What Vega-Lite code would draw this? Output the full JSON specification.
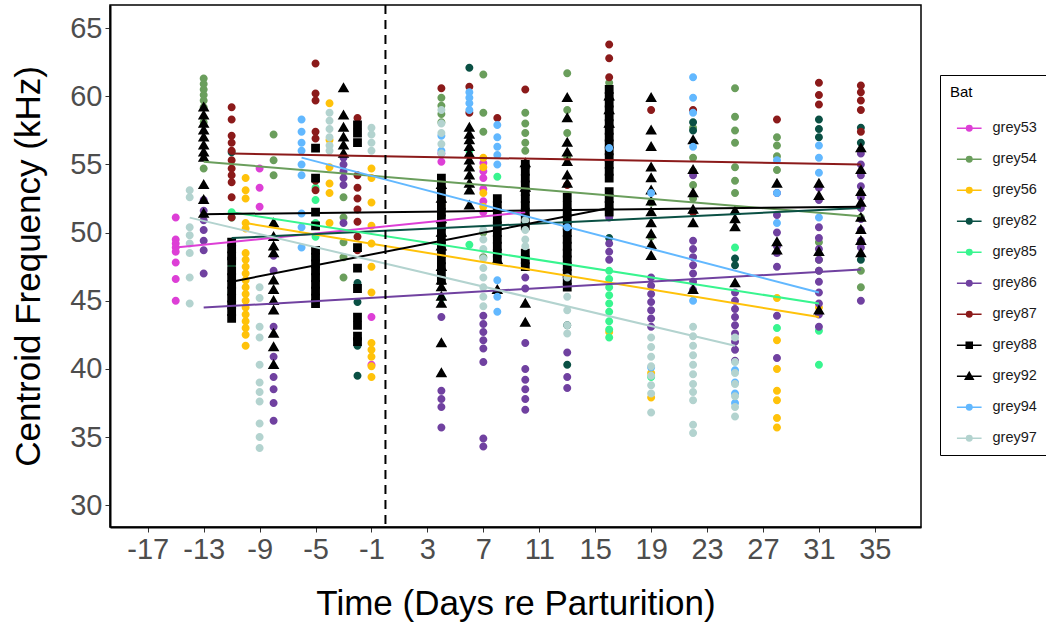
{
  "$schema": "https://vega.github.io/schema/vega-lite/v6.json",
  "width": 811,
  "height": 522,
  "autosize": {"type": "none"},
  "padding": {"left": 110, "top": 5, "right": 125, "bottom": 103},
  "background": "white",
  "datasets": {
    "points": [
      {"Bat":"grey53","Day":-15,"Freq":51.1},{"Bat":"grey53","Day":-15,"Freq":49.5},{"Bat":"grey53","Day":-15,"Freq":49.2},{"Bat":"grey53","Day":-15,"Freq":48.9},{"Bat":"grey53","Day":-15,"Freq":48.6},{"Bat":"grey53","Day":-15,"Freq":47.8},{"Bat":"grey53","Day":-15,"Freq":46.6},{"Bat":"grey53","Day":-15,"Freq":45.0},
      {"Bat":"grey53","Day":-9,"Freq":54.7},{"Bat":"grey53","Day":-9,"Freq":53.3},{"Bat":"grey53","Day":-9,"Freq":51.9},
      {"Bat":"grey53","Day":-1,"Freq":43.8},{"Bat":"grey53","Day":-1,"Freq":40.3},
      {"Bat":"grey53","Day":4,"Freq":55.8},{"Bat":"grey53","Day":4,"Freq":55.2},
      {"Bat":"grey53","Day":7,"Freq":55.1},{"Bat":"grey53","Day":7,"Freq":54.5},{"Bat":"grey53","Day":7,"Freq":54.0},{"Bat":"grey53","Day":7,"Freq":53.2},{"Bat":"grey53","Day":7,"Freq":52.3},{"Bat":"grey53","Day":7,"Freq":51.5},

      {"Bat":"grey54","Day":-13,"Freq":61.3},{"Bat":"grey54","Day":-13,"Freq":60.9},{"Bat":"grey54","Day":-13,"Freq":60.5},{"Bat":"grey54","Day":-13,"Freq":60.1},{"Bat":"grey54","Day":-13,"Freq":59.7},{"Bat":"grey54","Day":-13,"Freq":59.2},{"Bat":"grey54","Day":-13,"Freq":58.1},{"Bat":"grey54","Day":-13,"Freq":54.7},
      {"Bat":"grey54","Day":-8,"Freq":57.2},{"Bat":"grey54","Day":-8,"Freq":55.3},{"Bat":"grey54","Day":-8,"Freq":54.2},
      {"Bat":"grey54","Day":-3,"Freq":52.6},{"Bat":"grey54","Day":-3,"Freq":51.1},{"Bat":"grey54","Day":-3,"Freq":49.3},{"Bat":"grey54","Day":-3,"Freq":48.2},{"Bat":"grey54","Day":-3,"Freq":46.7},
      {"Bat":"grey54","Day":4,"Freq":59.9},{"Bat":"grey54","Day":4,"Freq":59.3},{"Bat":"grey54","Day":4,"Freq":58.7},{"Bat":"grey54","Day":4,"Freq":58.1},{"Bat":"grey54","Day":4,"Freq":50.7},
      {"Bat":"grey54","Day":7,"Freq":61.6},{"Bat":"grey54","Day":7,"Freq":58.8},{"Bat":"grey54","Day":7,"Freq":57.4},{"Bat":"grey54","Day":7,"Freq":50.0},{"Bat":"grey54","Day":7,"Freq":48.2},
      {"Bat":"grey54","Day":10,"Freq":58.8},{"Bat":"grey54","Day":10,"Freq":58.0},{"Bat":"grey54","Day":10,"Freq":57.3},{"Bat":"grey54","Day":10,"Freq":56.6},{"Bat":"grey54","Day":10,"Freq":56.0},
      {"Bat":"grey54","Day":13,"Freq":61.7},{"Bat":"grey54","Day":13,"Freq":59.0},{"Bat":"grey54","Day":13,"Freq":57.3},{"Bat":"grey54","Day":13,"Freq":55.5},
      {"Bat":"grey54","Day":16,"Freq":61.0},
      {"Bat":"grey54","Day":19,"Freq":52.2},{"Bat":"grey54","Day":19,"Freq":49.7},
      {"Bat":"grey54","Day":22,"Freq":57.7},{"Bat":"grey54","Day":22,"Freq":55.5},{"Bat":"grey54","Day":22,"Freq":54.5},{"Bat":"grey54","Day":22,"Freq":53.5},{"Bat":"grey54","Day":22,"Freq":52.5},{"Bat":"grey54","Day":22,"Freq":51.5},
      {"Bat":"grey54","Day":25,"Freq":60.6},{"Bat":"grey54","Day":25,"Freq":58.5},{"Bat":"grey54","Day":25,"Freq":57.5},{"Bat":"grey54","Day":25,"Freq":56.6},{"Bat":"grey54","Day":25,"Freq":54.8},{"Bat":"grey54","Day":25,"Freq":53.8},{"Bat":"grey54","Day":25,"Freq":52.9},
      {"Bat":"grey54","Day":28,"Freq":57.0},{"Bat":"grey54","Day":28,"Freq":56.4},{"Bat":"grey54","Day":28,"Freq":55.6},{"Bat":"grey54","Day":28,"Freq":54.6},
      {"Bat":"grey54","Day":31,"Freq":49.3},{"Bat":"grey54","Day":31,"Freq":48.0},{"Bat":"grey54","Day":31,"Freq":47.2},
      {"Bat":"grey54","Day":34,"Freq":51.1},{"Bat":"grey54","Day":34,"Freq":47.2},{"Bat":"grey54","Day":34,"Freq":46.0},

      {"Bat":"grey56","Day":-10,"Freq":54.0},{"Bat":"grey56","Day":-10,"Freq":53.1},{"Bat":"grey56","Day":-10,"Freq":52.5},{"Bat":"grey56","Day":-10,"Freq":50.7},{"Bat":"grey56","Day":-10,"Freq":50.3},{"Bat":"grey56","Day":-10,"Freq":48.5},{"Bat":"grey56","Day":-10,"Freq":48.0},{"Bat":"grey56","Day":-10,"Freq":47.5},{"Bat":"grey56","Day":-10,"Freq":47.0},{"Bat":"grey56","Day":-10,"Freq":46.5},{"Bat":"grey56","Day":-10,"Freq":46.0},{"Bat":"grey56","Day":-10,"Freq":45.5},{"Bat":"grey56","Day":-10,"Freq":45.0},{"Bat":"grey56","Day":-10,"Freq":44.5},{"Bat":"grey56","Day":-10,"Freq":44.0},{"Bat":"grey56","Day":-10,"Freq":43.5},{"Bat":"grey56","Day":-10,"Freq":43.0},{"Bat":"grey56","Day":-10,"Freq":42.5},{"Bat":"grey56","Day":-10,"Freq":41.7},
      {"Bat":"grey56","Day":-4,"Freq":59.5},{"Bat":"grey56","Day":-4,"Freq":56.8},{"Bat":"grey56","Day":-4,"Freq":54.8},{"Bat":"grey56","Day":-4,"Freq":53.6},{"Bat":"grey56","Day":-4,"Freq":52.9},{"Bat":"grey56","Day":-4,"Freq":50.7},
      {"Bat":"grey56","Day":-1,"Freq":54.7},{"Bat":"grey56","Day":-1,"Freq":54.0},{"Bat":"grey56","Day":-1,"Freq":52.2},{"Bat":"grey56","Day":-1,"Freq":50.5},{"Bat":"grey56","Day":-1,"Freq":49.2},{"Bat":"grey56","Day":-1,"Freq":47.5},{"Bat":"grey56","Day":-1,"Freq":45.6},{"Bat":"grey56","Day":-1,"Freq":41.9},{"Bat":"grey56","Day":-1,"Freq":41.4},{"Bat":"grey56","Day":-1,"Freq":40.9},{"Bat":"grey56","Day":-1,"Freq":40.2},{"Bat":"grey56","Day":-1,"Freq":39.4},
      {"Bat":"grey56","Day":4,"Freq":52.0},{"Bat":"grey56","Day":4,"Freq":51.5},
      {"Bat":"grey56","Day":7,"Freq":55.5},{"Bat":"grey56","Day":7,"Freq":54.8},{"Bat":"grey56","Day":7,"Freq":52.9},{"Bat":"grey56","Day":7,"Freq":51.9},
      {"Bat":"grey56","Day":16,"Freq":42.7},
      {"Bat":"grey56","Day":19,"Freq":39.7},{"Bat":"grey56","Day":19,"Freq":37.9},
      {"Bat":"grey56","Day":28,"Freq":45.2},{"Bat":"grey56","Day":28,"Freq":42.1},{"Bat":"grey56","Day":28,"Freq":40.0},{"Bat":"grey56","Day":28,"Freq":38.4},{"Bat":"grey56","Day":28,"Freq":37.7},{"Bat":"grey56","Day":28,"Freq":36.4},{"Bat":"grey56","Day":28,"Freq":35.7},
      {"Bat":"grey56","Day":31,"Freq":44.5},

      {"Bat":"grey82","Day":-11,"Freq":55.9},
      {"Bat":"grey82","Day":-5,"Freq":48.7},
      {"Bat":"grey82","Day":-2,"Freq":46.3},{"Bat":"grey82","Day":-2,"Freq":44.9},{"Bat":"grey82","Day":-2,"Freq":41.7},{"Bat":"grey82","Day":-2,"Freq":39.5},
      {"Bat":"grey82","Day":6,"Freq":62.1},
      {"Bat":"grey82","Day":13,"Freq":43.2},{"Bat":"grey82","Day":13,"Freq":40.3},
      {"Bat":"grey82","Day":16,"Freq":49.6},
      {"Bat":"grey82","Day":22,"Freq":58.1},{"Bat":"grey82","Day":22,"Freq":57.5},
      {"Bat":"grey82","Day":25,"Freq":48.1},{"Bat":"grey82","Day":25,"Freq":47.6},
      {"Bat":"grey82","Day":31,"Freq":58.3},{"Bat":"grey82","Day":31,"Freq":57.6},{"Bat":"grey82","Day":31,"Freq":57.0},
      {"Bat":"grey82","Day":34,"Freq":57.7},{"Bat":"grey82","Day":34,"Freq":56.6},{"Bat":"grey82","Day":34,"Freq":48.0},

      {"Bat":"grey85","Day":-11,"Freq":51.5},{"Bat":"grey85","Day":-11,"Freq":51.1},{"Bat":"grey85","Day":-11,"Freq":47.6},{"Bat":"grey85","Day":-11,"Freq":45.6},
      {"Bat":"grey85","Day":-5,"Freq":53.3},{"Bat":"grey85","Day":-5,"Freq":52.4},{"Bat":"grey85","Day":-5,"Freq":50.7},{"Bat":"grey85","Day":-5,"Freq":49.7},{"Bat":"grey85","Day":-5,"Freq":48.2},
      {"Bat":"grey85","Day":4,"Freq":45.2},
      {"Bat":"grey85","Day":6,"Freq":56.0},{"Bat":"grey85","Day":6,"Freq":49.1},
      {"Bat":"grey85","Day":8,"Freq":54.1},
      {"Bat":"grey85","Day":16,"Freq":47.2},{"Bat":"grey85","Day":16,"Freq":46.6},{"Bat":"grey85","Day":16,"Freq":46.0},{"Bat":"grey85","Day":16,"Freq":45.4},{"Bat":"grey85","Day":16,"Freq":44.8},{"Bat":"grey85","Day":16,"Freq":44.2},{"Bat":"grey85","Day":16,"Freq":43.5},{"Bat":"grey85","Day":16,"Freq":42.9},{"Bat":"grey85","Day":16,"Freq":42.3},
      {"Bat":"grey85","Day":19,"Freq":39.4},
      {"Bat":"grey85","Day":25,"Freq":48.9},
      {"Bat":"grey85","Day":28,"Freq":43.0},
      {"Bat":"grey85","Day":31,"Freq":42.8},{"Bat":"grey85","Day":31,"Freq":40.3},

      {"Bat":"grey86","Day":-13,"Freq":52.4},{"Bat":"grey86","Day":-13,"Freq":51.6},{"Bat":"grey86","Day":-13,"Freq":50.9},{"Bat":"grey86","Day":-13,"Freq":50.2},{"Bat":"grey86","Day":-13,"Freq":49.4},{"Bat":"grey86","Day":-13,"Freq":48.7},{"Bat":"grey86","Day":-13,"Freq":47.0},
      {"Bat":"grey86","Day":-8,"Freq":48.3},{"Bat":"grey86","Day":-8,"Freq":47.2},{"Bat":"grey86","Day":-8,"Freq":43.1},{"Bat":"grey86","Day":-8,"Freq":40.9},{"Bat":"grey86","Day":-8,"Freq":39.4},{"Bat":"grey86","Day":-8,"Freq":38.5},{"Bat":"grey86","Day":-8,"Freq":37.5},{"Bat":"grey86","Day":-8,"Freq":36.2},
      {"Bat":"grey86","Day":-3,"Freq":55.5},{"Bat":"grey86","Day":-3,"Freq":55.0},{"Bat":"grey86","Day":-3,"Freq":54.5},{"Bat":"grey86","Day":-3,"Freq":54.0},{"Bat":"grey86","Day":-3,"Freq":53.5},{"Bat":"grey86","Day":-3,"Freq":50.7},
      {"Bat":"grey86","Day":4,"Freq":43.8},{"Bat":"grey86","Day":4,"Freq":38.4},{"Bat":"grey86","Day":4,"Freq":37.8},{"Bat":"grey86","Day":4,"Freq":37.2},{"Bat":"grey86","Day":4,"Freq":35.7},
      {"Bat":"grey86","Day":7,"Freq":43.9},{"Bat":"grey86","Day":7,"Freq":43.3},{"Bat":"grey86","Day":7,"Freq":42.7},{"Bat":"grey86","Day":7,"Freq":42.1},{"Bat":"grey86","Day":7,"Freq":41.5},{"Bat":"grey86","Day":7,"Freq":40.5},{"Bat":"grey86","Day":7,"Freq":34.9},{"Bat":"grey86","Day":7,"Freq":34.3},
      {"Bat":"grey86","Day":10,"Freq":46.7},{"Bat":"grey86","Day":10,"Freq":45.9},{"Bat":"grey86","Day":10,"Freq":41.9},{"Bat":"grey86","Day":10,"Freq":40.0},{"Bat":"grey86","Day":10,"Freq":39.2},{"Bat":"grey86","Day":10,"Freq":38.5},{"Bat":"grey86","Day":10,"Freq":37.8},{"Bat":"grey86","Day":10,"Freq":37.0},
      {"Bat":"grey86","Day":13,"Freq":41.2},{"Bat":"grey86","Day":13,"Freq":39.4},{"Bat":"grey86","Day":13,"Freq":38.6},
      {"Bat":"grey86","Day":16,"Freq":55.1},{"Bat":"grey86","Day":16,"Freq":51.1},{"Bat":"grey86","Day":16,"Freq":49.2},{"Bat":"grey86","Day":16,"Freq":48.6},{"Bat":"grey86","Day":16,"Freq":48.0},
      {"Bat":"grey86","Day":19,"Freq":46.7},{"Bat":"grey86","Day":19,"Freq":46.1},{"Bat":"grey86","Day":19,"Freq":45.5},{"Bat":"grey86","Day":19,"Freq":44.9},{"Bat":"grey86","Day":19,"Freq":44.3},{"Bat":"grey86","Day":19,"Freq":43.7},{"Bat":"grey86","Day":19,"Freq":43.1},
      {"Bat":"grey86","Day":22,"Freq":54.2},{"Bat":"grey86","Day":22,"Freq":49.4},{"Bat":"grey86","Day":22,"Freq":48.8},{"Bat":"grey86","Day":22,"Freq":48.2},{"Bat":"grey86","Day":22,"Freq":47.6},{"Bat":"grey86","Day":22,"Freq":47.0},{"Bat":"grey86","Day":22,"Freq":46.4},{"Bat":"grey86","Day":22,"Freq":45.8},
      {"Bat":"grey86","Day":25,"Freq":45.6},{"Bat":"grey86","Day":25,"Freq":45.0},{"Bat":"grey86","Day":25,"Freq":44.4},{"Bat":"grey86","Day":25,"Freq":43.8},{"Bat":"grey86","Day":25,"Freq":43.2},{"Bat":"grey86","Day":25,"Freq":42.6},{"Bat":"grey86","Day":25,"Freq":42.0},{"Bat":"grey86","Day":25,"Freq":41.4},{"Bat":"grey86","Day":25,"Freq":40.6},
      {"Bat":"grey86","Day":28,"Freq":52.9},{"Bat":"grey86","Day":28,"Freq":51.3},{"Bat":"grey86","Day":28,"Freq":50.0},{"Bat":"grey86","Day":28,"Freq":49.0},{"Bat":"grey86","Day":28,"Freq":48.5},{"Bat":"grey86","Day":28,"Freq":47.5},{"Bat":"grey86","Day":28,"Freq":43.9},{"Bat":"grey86","Day":28,"Freq":40.8},
      {"Bat":"grey86","Day":31,"Freq":53.3},{"Bat":"grey86","Day":31,"Freq":52.4},{"Bat":"grey86","Day":31,"Freq":50.4},{"Bat":"grey86","Day":31,"Freq":49.6},{"Bat":"grey86","Day":31,"Freq":48.8},{"Bat":"grey86","Day":31,"Freq":48.0},{"Bat":"grey86","Day":31,"Freq":47.2},{"Bat":"grey86","Day":31,"Freq":46.4},{"Bat":"grey86","Day":31,"Freq":45.6},{"Bat":"grey86","Day":31,"Freq":44.8},{"Bat":"grey86","Day":31,"Freq":44.0},{"Bat":"grey86","Day":31,"Freq":43.1},
      {"Bat":"grey86","Day":34,"Freq":55.8},{"Bat":"grey86","Day":34,"Freq":55.0},{"Bat":"grey86","Day":34,"Freq":54.2},{"Bat":"grey86","Day":34,"Freq":53.4},{"Bat":"grey86","Day":34,"Freq":52.6},{"Bat":"grey86","Day":34,"Freq":51.8},{"Bat":"grey86","Day":34,"Freq":51.0},{"Bat":"grey86","Day":34,"Freq":50.2},{"Bat":"grey86","Day":34,"Freq":49.4},{"Bat":"grey86","Day":34,"Freq":48.9},{"Bat":"grey86","Day":34,"Freq":45.0},

      {"Bat":"grey87","Day":-11,"Freq":59.2},{"Bat":"grey87","Day":-11,"Freq":58.3},{"Bat":"grey87","Day":-11,"Freq":57.1},{"Bat":"grey87","Day":-11,"Freq":56.6},{"Bat":"grey87","Day":-11,"Freq":56.0},{"Bat":"grey87","Day":-11,"Freq":55.3},{"Bat":"grey87","Day":-11,"Freq":54.7},{"Bat":"grey87","Day":-11,"Freq":54.2},{"Bat":"grey87","Day":-11,"Freq":53.7},{"Bat":"grey87","Day":-11,"Freq":52.6},{"Bat":"grey87","Day":-11,"Freq":51.1},
      {"Bat":"grey87","Day":-5,"Freq":62.4},{"Bat":"grey87","Day":-5,"Freq":60.2},{"Bat":"grey87","Day":-5,"Freq":59.7},{"Bat":"grey87","Day":-5,"Freq":57.4},{"Bat":"grey87","Day":-5,"Freq":56.9},{"Bat":"grey87","Day":-5,"Freq":53.8},{"Bat":"grey87","Day":-5,"Freq":53.1},
      {"Bat":"grey87","Day":-2,"Freq":58.4},{"Bat":"grey87","Day":-2,"Freq":54.2},{"Bat":"grey87","Day":-2,"Freq":53.3},{"Bat":"grey87","Day":-2,"Freq":52.5},{"Bat":"grey87","Day":-2,"Freq":51.7},{"Bat":"grey87","Day":-2,"Freq":50.8},{"Bat":"grey87","Day":-2,"Freq":49.7},{"Bat":"grey87","Day":-2,"Freq":48.7},
      {"Bat":"grey87","Day":4,"Freq":60.6},
      {"Bat":"grey87","Day":6,"Freq":60.7},{"Bat":"grey87","Day":6,"Freq":58.8},
      {"Bat":"grey87","Day":8,"Freq":58.4},
      {"Bat":"grey87","Day":10,"Freq":60.5},
      {"Bat":"grey87","Day":13,"Freq":53.5},
      {"Bat":"grey87","Day":16,"Freq":63.8},{"Bat":"grey87","Day":16,"Freq":62.8},{"Bat":"grey87","Day":16,"Freq":61.4},
      {"Bat":"grey87","Day":19,"Freq":59.0},
      {"Bat":"grey87","Day":22,"Freq":59.0},{"Bat":"grey87","Day":22,"Freq":51.5},
      {"Bat":"grey87","Day":28,"Freq":58.3},
      {"Bat":"grey87","Day":31,"Freq":61.0},{"Bat":"grey87","Day":31,"Freq":60.1},{"Bat":"grey87","Day":31,"Freq":59.4},
      {"Bat":"grey87","Day":34,"Freq":60.8},{"Bat":"grey87","Day":34,"Freq":60.3},{"Bat":"grey87","Day":34,"Freq":59.7},{"Bat":"grey87","Day":34,"Freq":59.0},{"Bat":"grey87","Day":34,"Freq":57.4},

      {"Bat":"grey88","Day":-11,"Freq":49.3},{"Bat":"grey88","Day":-11,"Freq":48.8},{"Bat":"grey88","Day":-11,"Freq":48.3},{"Bat":"grey88","Day":-11,"Freq":47.9},{"Bat":"grey88","Day":-11,"Freq":47.2},{"Bat":"grey88","Day":-11,"Freq":46.7},{"Bat":"grey88","Day":-11,"Freq":46.2},{"Bat":"grey88","Day":-11,"Freq":45.7},{"Bat":"grey88","Day":-11,"Freq":45.2},{"Bat":"grey88","Day":-11,"Freq":44.7},{"Bat":"grey88","Day":-11,"Freq":44.2},{"Bat":"grey88","Day":-11,"Freq":43.7},
      {"Bat":"grey88","Day":-5,"Freq":56.2},{"Bat":"grey88","Day":-5,"Freq":54.0},{"Bat":"grey88","Day":-5,"Freq":51.5},{"Bat":"grey88","Day":-5,"Freq":50.5},{"Bat":"grey88","Day":-5,"Freq":48.7},{"Bat":"grey88","Day":-5,"Freq":48.2},{"Bat":"grey88","Day":-5,"Freq":47.7},{"Bat":"grey88","Day":-5,"Freq":47.2},{"Bat":"grey88","Day":-5,"Freq":46.7},{"Bat":"grey88","Day":-5,"Freq":46.2},{"Bat":"grey88","Day":-5,"Freq":45.7},{"Bat":"grey88","Day":-5,"Freq":45.2},{"Bat":"grey88","Day":-5,"Freq":44.8},
      {"Bat":"grey88","Day":-2,"Freq":57.9},{"Bat":"grey88","Day":-2,"Freq":57.3},{"Bat":"grey88","Day":-2,"Freq":56.6},{"Bat":"grey88","Day":-2,"Freq":48.9},{"Bat":"grey88","Day":-2,"Freq":47.4},{"Bat":"grey88","Day":-2,"Freq":45.9},{"Bat":"grey88","Day":-2,"Freq":43.8},{"Bat":"grey88","Day":-2,"Freq":43.2},{"Bat":"grey88","Day":-2,"Freq":42.4},{"Bat":"grey88","Day":-2,"Freq":42.0},
      {"Bat":"grey88","Day":4,"Freq":54.0},{"Bat":"grey88","Day":4,"Freq":53.5},{"Bat":"grey88","Day":4,"Freq":53.0},{"Bat":"grey88","Day":4,"Freq":52.5},{"Bat":"grey88","Day":4,"Freq":52.0},{"Bat":"grey88","Day":4,"Freq":51.5},{"Bat":"grey88","Day":4,"Freq":51.0},{"Bat":"grey88","Day":4,"Freq":50.5},{"Bat":"grey88","Day":4,"Freq":50.0},{"Bat":"grey88","Day":4,"Freq":49.5},{"Bat":"grey88","Day":4,"Freq":49.0},{"Bat":"grey88","Day":4,"Freq":48.5},{"Bat":"grey88","Day":4,"Freq":48.0},{"Bat":"grey88","Day":4,"Freq":47.5},{"Bat":"grey88","Day":4,"Freq":47.0},{"Bat":"grey88","Day":4,"Freq":46.5},
      {"Bat":"grey88","Day":8,"Freq":52.5},{"Bat":"grey88","Day":8,"Freq":52.0},{"Bat":"grey88","Day":8,"Freq":51.5},{"Bat":"grey88","Day":8,"Freq":51.0},{"Bat":"grey88","Day":8,"Freq":50.5},{"Bat":"grey88","Day":8,"Freq":50.0},{"Bat":"grey88","Day":8,"Freq":49.5},{"Bat":"grey88","Day":8,"Freq":49.0},{"Bat":"grey88","Day":8,"Freq":48.5},{"Bat":"grey88","Day":8,"Freq":48.0},
      {"Bat":"grey88","Day":10,"Freq":55.0},{"Bat":"grey88","Day":10,"Freq":54.5},{"Bat":"grey88","Day":10,"Freq":54.0},{"Bat":"grey88","Day":10,"Freq":53.5},{"Bat":"grey88","Day":10,"Freq":53.0},{"Bat":"grey88","Day":10,"Freq":52.5},{"Bat":"grey88","Day":10,"Freq":52.0},{"Bat":"grey88","Day":10,"Freq":51.5},{"Bat":"grey88","Day":10,"Freq":51.0},{"Bat":"grey88","Day":10,"Freq":50.5},{"Bat":"grey88","Day":10,"Freq":48.5},{"Bat":"grey88","Day":10,"Freq":48.0},{"Bat":"grey88","Day":10,"Freq":47.5},
      {"Bat":"grey88","Day":13,"Freq":52.6},{"Bat":"grey88","Day":13,"Freq":52.0},{"Bat":"grey88","Day":13,"Freq":51.5},{"Bat":"grey88","Day":13,"Freq":51.0},{"Bat":"grey88","Day":13,"Freq":50.5},{"Bat":"grey88","Day":13,"Freq":50.0},{"Bat":"grey88","Day":13,"Freq":49.5},{"Bat":"grey88","Day":13,"Freq":49.0},{"Bat":"grey88","Day":13,"Freq":48.5},{"Bat":"grey88","Day":13,"Freq":48.0},{"Bat":"grey88","Day":13,"Freq":47.5},{"Bat":"grey88","Day":13,"Freq":47.0},{"Bat":"grey88","Day":13,"Freq":46.5},{"Bat":"grey88","Day":13,"Freq":46.0},
      {"Bat":"grey88","Day":16,"Freq":60.5},{"Bat":"grey88","Day":16,"Freq":60.0},{"Bat":"grey88","Day":16,"Freq":59.5},{"Bat":"grey88","Day":16,"Freq":59.0},{"Bat":"grey88","Day":16,"Freq":58.5},{"Bat":"grey88","Day":16,"Freq":58.0},{"Bat":"grey88","Day":16,"Freq":57.5},{"Bat":"grey88","Day":16,"Freq":57.0},{"Bat":"grey88","Day":16,"Freq":56.5},{"Bat":"grey88","Day":16,"Freq":56.0},{"Bat":"grey88","Day":16,"Freq":55.5},{"Bat":"grey88","Day":16,"Freq":55.0},{"Bat":"grey88","Day":16,"Freq":54.5},{"Bat":"grey88","Day":16,"Freq":54.0},{"Bat":"grey88","Day":16,"Freq":53.0},{"Bat":"grey88","Day":16,"Freq":52.5},{"Bat":"grey88","Day":16,"Freq":52.0},{"Bat":"grey88","Day":16,"Freq":51.5},

      {"Bat":"grey92","Day":-13,"Freq":59.2},{"Bat":"grey92","Day":-13,"Freq":58.6},{"Bat":"grey92","Day":-13,"Freq":58.0},{"Bat":"grey92","Day":-13,"Freq":57.5},{"Bat":"grey92","Day":-13,"Freq":57.0},{"Bat":"grey92","Day":-13,"Freq":56.4},{"Bat":"grey92","Day":-13,"Freq":55.9},{"Bat":"grey92","Day":-13,"Freq":55.5},{"Bat":"grey92","Day":-13,"Freq":53.5},{"Bat":"grey92","Day":-13,"Freq":52.4},{"Bat":"grey92","Day":-13,"Freq":51.4},
      {"Bat":"grey92","Day":-8,"Freq":50.7},{"Bat":"grey92","Day":-8,"Freq":49.7},{"Bat":"grey92","Day":-8,"Freq":49.0},{"Bat":"grey92","Day":-8,"Freq":48.5},{"Bat":"grey92","Day":-8,"Freq":46.5},{"Bat":"grey92","Day":-8,"Freq":45.8},{"Bat":"grey92","Day":-8,"Freq":45.0},{"Bat":"grey92","Day":-8,"Freq":44.3},{"Bat":"grey92","Day":-8,"Freq":42.6},{"Bat":"grey92","Day":-8,"Freq":41.6},{"Bat":"grey92","Day":-8,"Freq":40.3},
      {"Bat":"grey92","Day":-3,"Freq":60.6},{"Bat":"grey92","Day":-3,"Freq":58.6},{"Bat":"grey92","Day":-3,"Freq":57.7},{"Bat":"grey92","Day":-3,"Freq":57.0},{"Bat":"grey92","Day":-3,"Freq":56.4},{"Bat":"grey92","Day":-3,"Freq":55.8},
      {"Bat":"grey92","Day":4,"Freq":53.5},{"Bat":"grey92","Day":4,"Freq":52.5},{"Bat":"grey92","Day":4,"Freq":51.0},{"Bat":"grey92","Day":4,"Freq":50.0},{"Bat":"grey92","Day":4,"Freq":49.0},{"Bat":"grey92","Day":4,"Freq":47.5},{"Bat":"grey92","Day":4,"Freq":46.5},{"Bat":"grey92","Day":4,"Freq":46.0},{"Bat":"grey92","Day":4,"Freq":45.3},{"Bat":"grey92","Day":4,"Freq":44.8},{"Bat":"grey92","Day":4,"Freq":41.9},{"Bat":"grey92","Day":4,"Freq":39.7},
      {"Bat":"grey92","Day":6,"Freq":57.7},{"Bat":"grey92","Day":6,"Freq":57.2},{"Bat":"grey92","Day":6,"Freq":56.8},{"Bat":"grey92","Day":6,"Freq":56.3},{"Bat":"grey92","Day":6,"Freq":55.8},{"Bat":"grey92","Day":6,"Freq":55.3},{"Bat":"grey92","Day":6,"Freq":54.8},{"Bat":"grey92","Day":6,"Freq":54.2},{"Bat":"grey92","Day":6,"Freq":53.6},{"Bat":"grey92","Day":6,"Freq":53.1},{"Bat":"grey92","Day":6,"Freq":52.0},
      {"Bat":"grey92","Day":8,"Freq":48.0},{"Bat":"grey92","Day":8,"Freq":45.8},
      {"Bat":"grey92","Day":10,"Freq":55.1},{"Bat":"grey92","Day":10,"Freq":53.3},{"Bat":"grey92","Day":10,"Freq":44.8},{"Bat":"grey92","Day":10,"Freq":43.4},
      {"Bat":"grey92","Day":13,"Freq":59.9},{"Bat":"grey92","Day":13,"Freq":58.4},{"Bat":"grey92","Day":13,"Freq":56.6},{"Bat":"grey92","Day":13,"Freq":55.9},{"Bat":"grey92","Day":13,"Freq":55.2},{"Bat":"grey92","Day":13,"Freq":54.2},{"Bat":"grey92","Day":13,"Freq":53.6},
      {"Bat":"grey92","Day":16,"Freq":60.0},{"Bat":"grey92","Day":16,"Freq":59.0},{"Bat":"grey92","Day":16,"Freq":58.0},
      {"Bat":"grey92","Day":19,"Freq":59.9},{"Bat":"grey92","Day":19,"Freq":57.5},{"Bat":"grey92","Day":19,"Freq":56.3},{"Bat":"grey92","Day":19,"Freq":54.8},{"Bat":"grey92","Day":19,"Freq":54.0},{"Bat":"grey92","Day":19,"Freq":53.1},{"Bat":"grey92","Day":19,"Freq":52.3},{"Bat":"grey92","Day":19,"Freq":51.5},{"Bat":"grey92","Day":19,"Freq":50.7},{"Bat":"grey92","Day":19,"Freq":49.9},{"Bat":"grey92","Day":19,"Freq":49.1},{"Bat":"grey92","Day":19,"Freq":48.3},
      {"Bat":"grey92","Day":22,"Freq":56.8},{"Bat":"grey92","Day":22,"Freq":54.6},{"Bat":"grey92","Day":22,"Freq":52.9},{"Bat":"grey92","Day":22,"Freq":51.7},{"Bat":"grey92","Day":22,"Freq":50.7},{"Bat":"grey92","Day":22,"Freq":45.8},
      {"Bat":"grey92","Day":25,"Freq":51.6},{"Bat":"grey92","Day":25,"Freq":51.0},{"Bat":"grey92","Day":25,"Freq":50.4},{"Bat":"grey92","Day":25,"Freq":46.3},
      {"Bat":"grey92","Day":28,"Freq":53.6},{"Bat":"grey92","Day":28,"Freq":49.3},{"Bat":"grey92","Day":28,"Freq":48.7},
      {"Bat":"grey92","Day":31,"Freq":53.6},{"Bat":"grey92","Day":31,"Freq":52.7},{"Bat":"grey92","Day":31,"Freq":48.6},{"Bat":"grey92","Day":31,"Freq":44.3},
      {"Bat":"grey92","Day":34,"Freq":56.2},{"Bat":"grey92","Day":34,"Freq":54.6},{"Bat":"grey92","Day":34,"Freq":53.0},{"Bat":"grey92","Day":34,"Freq":52.2},{"Bat":"grey92","Day":34,"Freq":51.1},{"Bat":"grey92","Day":34,"Freq":50.2},{"Bat":"grey92","Day":34,"Freq":49.4},{"Bat":"grey92","Day":34,"Freq":48.5},

      {"Bat":"grey94","Day":-6,"Freq":58.3},{"Bat":"grey94","Day":-6,"Freq":57.4},{"Bat":"grey94","Day":-6,"Freq":56.6},{"Bat":"grey94","Day":-6,"Freq":56.0},{"Bat":"grey94","Day":-6,"Freq":55.0},{"Bat":"grey94","Day":-6,"Freq":54.2},{"Bat":"grey94","Day":-6,"Freq":51.4},{"Bat":"grey94","Day":-6,"Freq":50.4},{"Bat":"grey94","Day":-6,"Freq":48.9},
      {"Bat":"grey94","Day":4,"Freq":57.1},{"Bat":"grey94","Day":4,"Freq":56.0},
      {"Bat":"grey94","Day":6,"Freq":60.3},{"Bat":"grey94","Day":6,"Freq":59.9},{"Bat":"grey94","Day":6,"Freq":59.5},{"Bat":"grey94","Day":6,"Freq":59.0},
      {"Bat":"grey94","Day":8,"Freq":57.9},{"Bat":"grey94","Day":8,"Freq":57.0},{"Bat":"grey94","Day":8,"Freq":56.3},{"Bat":"grey94","Day":8,"Freq":55.7},{"Bat":"grey94","Day":8,"Freq":55.0},{"Bat":"grey94","Day":8,"Freq":46.5},{"Bat":"grey94","Day":8,"Freq":45.3},{"Bat":"grey94","Day":8,"Freq":44.2},
      {"Bat":"grey94","Day":13,"Freq":50.4},
      {"Bat":"grey94","Day":16,"Freq":56.2},
      {"Bat":"grey94","Day":19,"Freq":52.9},{"Bat":"grey94","Day":19,"Freq":40.1},
      {"Bat":"grey94","Day":22,"Freq":61.4},{"Bat":"grey94","Day":22,"Freq":59.9},{"Bat":"grey94","Day":22,"Freq":58.8},{"Bat":"grey94","Day":22,"Freq":56.3},{"Bat":"grey94","Day":22,"Freq":45.0},
      {"Bat":"grey94","Day":25,"Freq":39.9},{"Bat":"grey94","Day":25,"Freq":39.0},{"Bat":"grey94","Day":25,"Freq":38.2},{"Bat":"grey94","Day":25,"Freq":37.5},
      {"Bat":"grey94","Day":28,"Freq":55.3},{"Bat":"grey94","Day":28,"Freq":52.9},{"Bat":"grey94","Day":28,"Freq":50.7},
      {"Bat":"grey94","Day":31,"Freq":56.4},{"Bat":"grey94","Day":31,"Freq":55.5},{"Bat":"grey94","Day":31,"Freq":54.4},{"Bat":"grey94","Day":31,"Freq":51.1},

      {"Bat":"grey97","Day":-14,"Freq":53.1},{"Bat":"grey97","Day":-14,"Freq":52.6},{"Bat":"grey97","Day":-14,"Freq":50.4},{"Bat":"grey97","Day":-14,"Freq":49.8},{"Bat":"grey97","Day":-14,"Freq":49.2},{"Bat":"grey97","Day":-14,"Freq":48.5},{"Bat":"grey97","Day":-14,"Freq":46.7},{"Bat":"grey97","Day":-14,"Freq":44.8},
      {"Bat":"grey97","Day":-9,"Freq":46.0},{"Bat":"grey97","Day":-9,"Freq":45.2},{"Bat":"grey97","Day":-9,"Freq":43.1},{"Bat":"grey97","Day":-9,"Freq":42.3},{"Bat":"grey97","Day":-9,"Freq":40.3},{"Bat":"grey97","Day":-9,"Freq":39.0},{"Bat":"grey97","Day":-9,"Freq":38.3},{"Bat":"grey97","Day":-9,"Freq":37.6},{"Bat":"grey97","Day":-9,"Freq":36.0},{"Bat":"grey97","Day":-9,"Freq":35.0},{"Bat":"grey97","Day":-9,"Freq":34.2},
      {"Bat":"grey97","Day":-4,"Freq":58.8},{"Bat":"grey97","Day":-4,"Freq":58.2},{"Bat":"grey97","Day":-4,"Freq":57.6},{"Bat":"grey97","Day":-4,"Freq":57.0},{"Bat":"grey97","Day":-4,"Freq":56.4},{"Bat":"grey97","Day":-4,"Freq":56.0},
      {"Bat":"grey97","Day":-1,"Freq":57.7},{"Bat":"grey97","Day":-1,"Freq":57.2},{"Bat":"grey97","Day":-1,"Freq":56.6},{"Bat":"grey97","Day":-1,"Freq":56.0},
      {"Bat":"grey97","Day":4,"Freq":59.0},{"Bat":"grey97","Day":4,"Freq":58.0},{"Bat":"grey97","Day":4,"Freq":57.3},{"Bat":"grey97","Day":4,"Freq":56.5},{"Bat":"grey97","Day":4,"Freq":55.8},
      {"Bat":"grey97","Day":7,"Freq":50.2},{"Bat":"grey97","Day":7,"Freq":49.5},{"Bat":"grey97","Day":7,"Freq":48.8},{"Bat":"grey97","Day":7,"Freq":48.1},{"Bat":"grey97","Day":7,"Freq":47.4},{"Bat":"grey97","Day":7,"Freq":46.7},{"Bat":"grey97","Day":7,"Freq":46.0},{"Bat":"grey97","Day":7,"Freq":45.3},{"Bat":"grey97","Day":7,"Freq":44.6},
      {"Bat":"grey97","Day":10,"Freq":50.9},{"Bat":"grey97","Day":10,"Freq":50.2},{"Bat":"grey97","Day":10,"Freq":49.5},{"Bat":"grey97","Day":10,"Freq":49.0},
      {"Bat":"grey97","Day":13,"Freq":46.7},{"Bat":"grey97","Day":13,"Freq":45.3},{"Bat":"grey97","Day":13,"Freq":44.3},{"Bat":"grey97","Day":13,"Freq":43.2},{"Bat":"grey97","Day":13,"Freq":42.6},
      {"Bat":"grey97","Day":19,"Freq":42.3},{"Bat":"grey97","Day":19,"Freq":41.6},{"Bat":"grey97","Day":19,"Freq":40.9},{"Bat":"grey97","Day":19,"Freq":40.2},{"Bat":"grey97","Day":19,"Freq":39.5},{"Bat":"grey97","Day":19,"Freq":38.8},{"Bat":"grey97","Day":19,"Freq":38.2},{"Bat":"grey97","Day":19,"Freq":36.8},
      {"Bat":"grey97","Day":22,"Freq":43.1},{"Bat":"grey97","Day":22,"Freq":42.4},{"Bat":"grey97","Day":22,"Freq":41.7},{"Bat":"grey97","Day":22,"Freq":41.0},{"Bat":"grey97","Day":22,"Freq":40.3},{"Bat":"grey97","Day":22,"Freq":39.6},{"Bat":"grey97","Day":22,"Freq":38.9},{"Bat":"grey97","Day":22,"Freq":38.3},{"Bat":"grey97","Day":22,"Freq":37.7},{"Bat":"grey97","Day":22,"Freq":35.9},{"Bat":"grey97","Day":22,"Freq":35.3},
      {"Bat":"grey97","Day":25,"Freq":42.3},{"Bat":"grey97","Day":25,"Freq":40.5},{"Bat":"grey97","Day":25,"Freq":39.7},{"Bat":"grey97","Day":25,"Freq":38.9},{"Bat":"grey97","Day":25,"Freq":38.0},{"Bat":"grey97","Day":25,"Freq":37.2},{"Bat":"grey97","Day":25,"Freq":36.5}
    ],
    "fits": [
      {"Bat":"grey53","Day":-15,"Freq":48.9},{"Bat":"grey53","Day":10,"Freq":51.5},
      {"Bat":"grey54","Day":-13,"Freq":55.2},{"Bat":"grey54","Day":34,"Freq":51.2},
      {"Bat":"grey56","Day":-10,"Freq":50.7},{"Bat":"grey56","Day":31,"Freq":43.8},
      {"Bat":"grey82","Day":-11,"Freq":49.6},{"Bat":"grey82","Day":34,"Freq":51.8},
      {"Bat":"grey85","Day":-11,"Freq":51.5},{"Bat":"grey85","Day":31,"Freq":44.8},
      {"Bat":"grey86","Day":-13,"Freq":44.5},{"Bat":"grey86","Day":34,"Freq":47.3},
      {"Bat":"grey87","Day":-11,"Freq":55.8},{"Bat":"grey87","Day":34,"Freq":55.0},
      {"Bat":"grey88","Day":-11,"Freq":46.4},{"Bat":"grey88","Day":16,"Freq":51.8},
      {"Bat":"grey92","Day":-13,"Freq":51.35},{"Bat":"grey92","Day":34,"Freq":51.9},
      {"Bat":"grey94","Day":-6,"Freq":55.5},{"Bat":"grey94","Day":31,"Freq":45.6},
      {"Bat":"grey97","Day":-14,"Freq":51.1},{"Bat":"grey97","Day":25,"Freq":41.7}
    ],
    "marker": [{"Day": 0}]
  },
  "layer": [
    {
      "data": {"name": "points"},
      "mark": {"type": "point", "filled": true, "opacity": 1, "size": 64, "strokeWidth": 0},
      "encoding": {
        "x": {
          "field": "Day", "type": "quantitative",
          "scale": {"domain": [-19.7, 38.3], "nice": false, "zero": false},
          "axis": {"values": [-17,-13,-9,-5,-1,3,7,11,15,19,23,27,31,35], "labelExpr": "'' + datum.value", "titlePadding": 22},
          "title": "Time (Days re Parturition)"
        },
        "y": {
          "field": "Freq", "type": "quantitative",
          "scale": {"domain": [28.4, 66.7], "nice": false, "zero": false},
          "axis": {"values": [30,35,40,45,50,55,60,65], "titlePadding": 23},
          "title": "Centroid Frequency (kHz)"
        },
        "fill": {
          "field": "Bat", "type": "nominal",
          "scale": {"domain": ["grey53","grey54","grey56","grey82","grey85","grey86","grey87","grey88","grey92","grey94","grey97"],
                    "range": ["#DD3FD6","#6A9E5C","#FFC20A","#0A5044","#38F58F","#7041A0","#8B1A1A","#000000","#000000","#62B8FF","#B3D3CF"]},
          "legend": {"title": "Bat", "encode": {"symbols": {"update": {"strokeWidth": {"value": 2}}}}}
        },
        "stroke": {
          "field": "Bat", "type": "nominal",
          "scale": {"domain": ["grey53","grey54","grey56","grey82","grey85","grey86","grey87","grey88","grey92","grey94","grey97"],
                    "range": ["#DD3FD6","#6A9E5C","#FFC20A","#0A5044","#38F58F","#7041A0","#8B1A1A","#000000","#000000","#62B8FF","#B3D3CF"]},
          "legend": {"title": "Bat", "encode": {"symbols": {"update": {"strokeWidth": {"value": 2}}}}}
        },
        "shape": {
          "field": "Bat", "type": "nominal",
          "scale": {"domain": ["grey53","grey54","grey56","grey82","grey85","grey86","grey87","grey88","grey92","grey94","grey97"],
                    "range": [
                      "M-4.5,0H4.5M1,0A1,1,0,1,1,-1,0A1,1,0,1,1,1,0Z",
                      "M-4.5,0H4.5M1,0A1,1,0,1,1,-1,0A1,1,0,1,1,1,0Z",
                      "M-4.5,0H4.5M1,0A1,1,0,1,1,-1,0A1,1,0,1,1,1,0Z",
                      "M-4.5,0H4.5M1,0A1,1,0,1,1,-1,0A1,1,0,1,1,1,0Z",
                      "M-4.5,0H4.5M1,0A1,1,0,1,1,-1,0A1,1,0,1,1,1,0Z",
                      "M-4.5,0H4.5M1,0A1,1,0,1,1,-1,0A1,1,0,1,1,1,0Z",
                      "M-4.5,0H4.5M1,0A1,1,0,1,1,-1,0A1,1,0,1,1,1,0Z",
                      "M-4.5,0H4.5M-1.1,-1.1H1.1V1.1H-1.1Z",
                      "M-4.5,0H4.5M0,-1.45L1.45,1.05H-1.45Z",
                      "M-4.5,0H4.5M1,0A1,1,0,1,1,-1,0A1,1,0,1,1,1,0Z",
                      "M-4.5,0H4.5M1,0A1,1,0,1,1,-1,0A1,1,0,1,1,1,0Z"
                    ]},
          "legend": {"title": "Bat", "encode": {"symbols": {"update": {"strokeWidth": {"value": 2}}}}}
        }
      }
    },
    {
      "data": {"name": "fits"},
      "mark": {"type": "line", "strokeWidth": 2},
      "encoding": {
        "x": {"field": "Day", "type": "quantitative"},
        "y": {"field": "Freq", "type": "quantitative"},
        "stroke": {"field": "Bat", "type": "nominal", "legend": null}
      }
    },
    {
      "data": {"name": "marker"},
      "mark": {"type": "rule", "color": "black", "strokeWidth": 2, "strokeDash": [9, 6]},
      "encoding": {"x": {"field": "Day", "type": "quantitative"}}
    }
  ],
  "config": {
    "font": "Liberation Sans",
    "view": {"stroke": "black", "strokeWidth": 1.5},
    "axis": {
      "grid": false, "domainColor": "black", "domainWidth": 2,
      "tickColor": "#333333", "tickSize": 5, "tickWidth": 1,
      "labelColor": "#4D4D4D", "labelFontSize": 29, "labelPadding": 3,
      "titleFontSize": 35, "titleFontWeight": "normal", "titleColor": "black"
    },
    "legend": {
      "orient": "none", "legendX": 830, "legendY": 70,
      "strokeColor": "black", "strokeWidth": 1, "padding": 10,
      "titleFontSize": 15, "titleFontWeight": "normal", "titleColor": "black", "titlePadding": 21,
      "labelFontSize": 14.5, "labelColor": "#1A1A1A", "labelOffset": 16,
      "symbolSize": 30, "symbolOffset": 12, "rowPadding": 16
    }
  }
}
